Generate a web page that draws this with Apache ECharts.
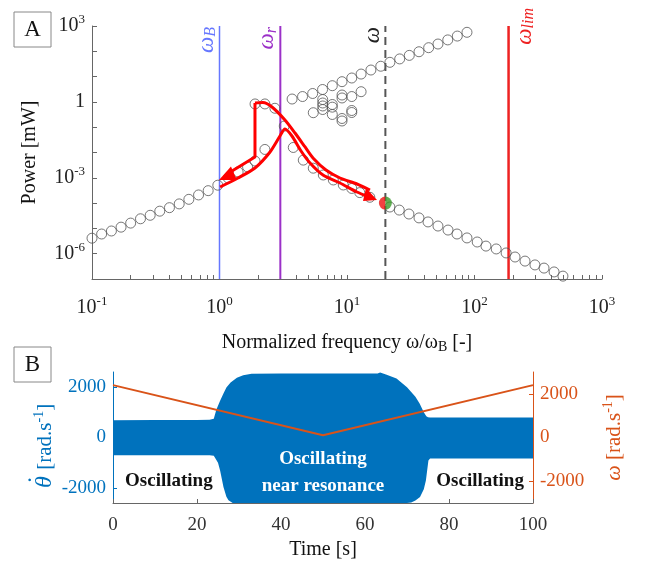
<!DOCTYPE html>
<html><head><meta charset="utf-8">
<script src="https://cdn.jsdelivr.net/npm/echarts@6/dist/echarts.min.js"></script>
<style>html,body{margin:0;padding:0;background:#fff}#c{width:647px;height:565px}</style>
</head><body><div id="c"></div>
<script>
// ---------- Panel A data (normalized frequency, power in mW) ----------
const downX = [0.1, 0.119, 0.142, 0.169, 0.201, 0.24, 0.286, 0.34, 0.405, 0.483, 0.575, 0.685, 0.815, 0.97, 1.17, 1.40, 1.66, 1.90, 2.27];
const downY = [4.1e-6, 6.0e-6, 7.9e-6, 1.12e-5, 1.62e-5, 2.4e-5, 3.3e-5, 4.8e-5, 6.6e-5, 9.3e-5, 1.41e-4, 2.1e-4, 3.1e-4, 5.1e-4, 9.8e-4, 1.7e-3, 2.7e-3, 4.6e-3, 1.32e-2];
const resX = [1.90, 2.27, 2.72, 3.22, 3.79, 4.54, 5.44, 6.52, 7.81, 9.35, 10.9, 12.6, 15.1];
const resY = [0.83, 0.83, 0.56, 0.111, 0.0158, 5.0e-3, 2.4e-3, 1.29e-3, 8.2e-4, 5.2e-4, 3.8e-4, 2.6e-4, 1.7e-4];
const tailX = [21.7, 25.7, 30.6, 36.7, 43.2, 51.7, 62.0, 72.9, 87.3, 105, 123, 148, 177, 208, 249, 298, 351, 421, 494];
const tailY = [7.0e-5, 5.3e-5, 3.7e-5, 2.6e-5, 1.8e-5, 1.24e-5, 8.6e-6, 6.0e-6, 4.2e-6, 2.9e-6, 2.0e-6, 1.54e-6, 1.07e-6, 7.4e-7, 5.1e-7, 3.6e-7, 2.7e-7, 1.9e-7, 1.3e-7];
const upX = [3.71, 4.48, 5.38, 6.43, 7.67, 9.14, 10.9, 12.9, 15.4, 18.4, 21.7, 25.9, 30.8, 36.7, 43.7, 51.7, 61.7, 73.3, 87.3];
const upY = [1.30, 1.63, 2.15, 3.09, 4.37, 6.3, 8.8, 12.6, 18.2, 25.7, 36.7, 50, 69, 96, 139, 194, 282, 400, 563];
const clusterX = [5.44, 6.45, 6.45, 6.45, 6.45, 7.67, 7.67, 7.67, 9.14, 9.14, 9.14, 9.14, 10.9, 10.9, 10.9, 12.9];
const clusterY = [0.374, 1.24, 0.905, 0.69, 0.50, 0.79, 0.62, 0.318, 1.87, 1.43, 0.221, 0.176, 1.63, 0.381, 0.457, 2.53];
const opX = [20], opY = [1.0e-4];
const freqLines = [1, 3.0, 20, 185];          // ωB, ωr, ω, ωlim
const arrowInnerX = [1.01, 1.397, 1.898, 2.49, 2.98, 3.26, 3.70, 4.36, 5.13, 6.48, 8.81, 11.97, 14.88];
const arrowInnerY = [4.33e-4, 9.8e-4, 2.44e-3, 1.05e-2, 0.0449, 0.0849, 0.0449, 0.01146, 3.85e-3, 1.29e-3, 6.23e-4, 2.75e-4, 1.74e-4];
const arrowOuterX = [1.253, 1.898, 1.898, 2.19, 2.58, 3.26, 3.91, 4.69, 5.41, 6.84, 8.81, 11.97, 15.14];
const arrowOuterY = [1.86e-3, 6.64e-3, 0.905, 0.947, 0.629, 0.193, 0.059, 0.0165, 6.07e-3, 2.03e-3, 9.82e-4, 5.69e-4, 3.30e-4];
const headRightX = [17.2, 14.1, 13.35], headRightY = [1.33e-4, 3.95e-4, 1.21e-4];
const headLeftX = [0.991, 1.23, 1.37], headLeftY = [8.18e-4, 2.80e-3, 8.18e-4];
const xTickLabels = [-1, 0, 1, 2, 3];          // decades
const yTickLabels = [-6, -3, 0, 3];

// ---------- Panel B data ----------
const upperT = [0, 10, 20, 23, 24, 24.6, 25.5, 26.3, 27, 28, 29.5, 31, 33, 40, 50, 60, 63, 63.6, 65, 67.5, 70, 72, 73, 74, 74.6, 75, 75.5, 80, 90, 100];
const upperV = [680, 690, 690, 700, 740, 1100, 1460, 1750, 1980, 2180, 2370, 2470, 2530, 2540, 2540, 2540, 2540, 2580, 2500, 2340, 1990, 1620, 1350, 1000, 840, 800, 790, 790, 790, 790];
const lowerT = [0, 10, 20, 23, 24, 25, 25.5, 26.3, 27, 27.5, 28.5, 40, 60, 70, 71, 72, 73.1, 74, 74.5, 75.1, 75.5, 80, 90, 100];
const lowerV = [-700, -700, -700, -700, -720, -1000, -1307, -1968, -2350, -2495, -2600, -2600, -2600, -2600, -2580, -2500, -2364, -2050, -1703, -911, -830, -830, -830, -830];
const omegaT = [0, 50, 100];
const omegaV = [2400, 100, 2400];
const timeTicks = [0, 20, 40, 60, 80, 100];
const thetaTicks = [-2000, 0, 2000];
const omegaTicks = [-2000, 0, 2000];
const regionText = ['Oscillating', 'Oscillating', 'Oscillating', 'near resonance'];
const regionT = [13.3, 87.4, 50, 50];
const regionV = [-1750, -1750, -870, -1940];
const regionColor = ['#111', '#111', '#fff', '#fff'];

const L = Math.log10;
const pts = (xs, ys) => xs.map((x, i) => [L(x), L(ys[i])]);
const FF = '"Liberation Serif", "DejaVu Serif", serif';
const BLUE = '#0072BD', ORANGE = '#D95319';

const minorTicks = [];
for (let d = -1; d < 3; d++) for (let k = 1; k < 10; k++) minorTicks.push(d + L(k));
minorTicks.push(3);

const supRich = {
  b: { fontSize: 20, fontFamily: FF, color: '#222' },
  s: { fontSize: 13, fontFamily: FF, color: '#222', padding: [0, 0, 12, 0] }
};

const circleStyle = { color: 'rgba(0,0,0,0)', borderColor: '#555', borderWidth: 1 };
function scatter(xs, ys) {
  return { type: 'scatter', xAxisIndex: 0, yAxisIndex: 0, data: pts(xs, ys), symbol: 'circle', symbolSize: 10, itemStyle: circleStyle, silent: true, z: 3 };
}
function vline(v, color, width, type) {
  return { type: 'line', xAxisIndex: 0, yAxisIndex: 0, data: [[L(v), -7], [L(v), 3]], symbol: 'none', lineStyle: { color: color, width: width, type: type || 'solid' }, z: 2, silent: true };
}
function poly(xs, ys) {
  return {
    type: 'custom', xAxisIndex: 0, yAxisIndex: 0, data: [[0, 0]], z: 6, silent: true,
    renderItem: (p, api) => ({ type: 'polygon', shape: { points: xs.map((x, i) => api.coord([L(x), L(ys[i])])) }, style: { fill: '#ff0000' } })
  };
}
const plain = v => String(v);

const chart = echarts.init(document.getElementById('c'), null, { renderer: 'canvas' });
const option = {
  animation: false,
  backgroundColor: '#fff',
  grid: [
    { left: 92, top: 26, width: 510, height: 253 },
    { left: 113, top: 372, width: 420, height: 131 }
  ],
  xAxis: [
    {
      gridIndex: 0, type: 'value', min: -1, max: 3,
      axisLine: { show: true, onZero: false, lineStyle: { color: '#666' } },
      axisTick: { show: true, inside: true, length: 4, customValues: minorTicks, lineStyle: { color: '#666' } },
      axisLabel: { customValues: xTickLabels, margin: 16, formatter: v => '{b|10}{s|' + v + '}', rich: supRich },
      splitLine: { show: false },
      name: '{t|Normalized frequency ω/ω}{u|B}{t| [-]}', nameLocation: 'middle', nameGap: 53,
      nameTextStyle: { rich: { t: { fontSize: 20, fontFamily: FF, color: '#111' }, u: { fontSize: 14, fontFamily: FF, color: '#111', padding: [8, 0, 0, 0] } } }
    },
    {
      gridIndex: 1, type: 'value', min: 0, max: 100, interval: 20,
      axisLine: { show: true, onZero: false, lineStyle: { color: '#666' } },
      axisTick: { show: true, inside: true, length: 4, customValues: timeTicks, lineStyle: { color: '#666' } },
      axisLabel: { customValues: timeTicks, fontSize: 19, fontFamily: FF, color: '#333', margin: 13, formatter: plain },
      splitLine: { show: false },
      name: 'Time [s]', nameLocation: 'middle', nameGap: 37,
      nameTextStyle: { fontSize: 20, fontFamily: FF, color: '#111' }
    }
  ],
  yAxis: [
    {
      gridIndex: 0, type: 'value', min: -7, max: 3, interval: 1,
      axisLine: { show: true, onZero: false, lineStyle: { color: '#666' } },
      axisTick: { show: true, inside: true, length: 5, lineStyle: { color: '#666' } },
      axisLabel: { customValues: yTickLabels, margin: 7, formatter: v => v === 0 ? '{b|1}' : '{b|10}{s|' + v + '}', rich: supRich },
      splitLine: { show: false },
      name: 'Power [mW]', nameLocation: 'middle', nameGap: 52, nameRotate: 90,
      nameTextStyle: { fontSize: 20, fontFamily: FF, color: '#111' }
    },
    {
      gridIndex: 1, type: 'value', min: -2600, max: 2600, position: 'left',
      axisLine: { show: true, onZero: false, lineStyle: { color: BLUE } },
      axisTick: { show: true, inside: true, length: 4, customValues: thetaTicks, lineStyle: { color: BLUE } },
      axisLabel: { customValues: thetaTicks, fontSize: 19, fontFamily: FF, color: BLUE, margin: 7, formatter: plain },
      splitLine: { show: false }
    },
    {
      gridIndex: 1, type: 'value', min: -3000, max: 3000, position: 'right',
      axisLine: { show: true, onZero: false, lineStyle: { color: ORANGE } },
      axisTick: { show: true, inside: true, length: 4, customValues: omegaTicks, lineStyle: { color: ORANGE } },
      axisLabel: { customValues: omegaTicks, fontSize: 19, fontFamily: FF, color: ORANGE, margin: 7, formatter: plain },
      splitLine: { show: false },
      name: '{w|ω}{t| [rad.s}{s|-1}{t|]}', nameLocation: 'middle', nameGap: 68, nameRotate: 90,
      nameTextStyle: { rich: {
        w: { fontSize: 22, fontFamily: FF, fontStyle: 'italic', color: ORANGE },
        t: { fontSize: 21, fontFamily: FF, color: ORANGE },
        s: { fontSize: 14, fontFamily: FF, color: ORANGE, padding: [0, 0, 12, 0] } } }
    }
  ],
  series: [
    vline(freqLines[0], '#6677ff', 1.5),
    vline(freqLines[1], '#9b30c8', 2),
    vline(freqLines[2], '#555', 2, [8, 5]),
    vline(freqLines[3], '#ee2222', 2.5),
    scatter(downX, downY),
    scatter(resX, resY),
    scatter(tailX, tailY),
    scatter(upX, upY),
    scatter(clusterX, clusterY),
    { type: 'line', xAxisIndex: 0, yAxisIndex: 0, data: pts(arrowInnerX, arrowInnerY), symbol: 'none', smooth: 0.25, lineStyle: { color: '#ff0000', width: 3 }, z: 5, silent: true },
    { type: 'line', xAxisIndex: 0, yAxisIndex: 0, data: pts(arrowOuterX.slice(0, 3), arrowOuterY.slice(0, 3)), symbol: 'none', lineStyle: { color: '#ff0000', width: 3 }, z: 5, silent: true },
    { type: 'line', xAxisIndex: 0, yAxisIndex: 0, data: pts(arrowOuterX.slice(2), arrowOuterY.slice(2)), symbol: 'none', smooth: 0.25, lineStyle: { color: '#ff0000', width: 3 }, z: 5, silent: true },
    poly(headRightX, headRightY),
    poly(headLeftX, headLeftY),
    { type: 'scatter', xAxisIndex: 0, yAxisIndex: 0, data: pts(opX, opY), symbol: 'path://M10,0 A10,10 0 0 0 10,20 Z', symbolSize: [6.5, 13], symbolOffset: [-3.25, 0], itemStyle: { color: '#ee1111' }, z: 7, silent: true },
    { type: 'scatter', xAxisIndex: 0, yAxisIndex: 0, data: pts(opX, opY), symbol: 'path://M0,0 A10,10 0 0 1 0,20 Z', symbolSize: [6.5, 13], symbolOffset: [3.25, 0], itemStyle: { color: '#3a9a2a' }, z: 7, silent: true },
    // Panel B
    {
      type: 'custom', xAxisIndex: 1, yAxisIndex: 1, data: [[0, 0]], z: 2, silent: true,
      renderItem: (p, api) => {
        const pp = upperT.map((t, i) => api.coord([t, upperV[i]]));
        for (let i = lowerT.length - 1; i >= 0; i--) pp.push(api.coord([lowerT[i], lowerV[i]]));
        return { type: 'polygon', shape: { points: pp }, style: { fill: BLUE } };
      }
    },
    { type: 'line', xAxisIndex: 1, yAxisIndex: 2, data: omegaT.map((t, i) => [t, omegaV[i]]), symbol: 'none', lineStyle: { color: ORANGE, width: 2 }, z: 4, silent: true },
    {
      type: 'custom', xAxisIndex: 1, yAxisIndex: 1, z: 5, silent: true,
      data: regionT.map((t, i) => [t, regionV[i], i]),
      renderItem: (p, api) => {
        const i = api.value(2);
        const c = api.coord([api.value(0), api.value(1)]);
        return { type: 'text', x: c[0], y: c[1], style: { text: regionText[i], fill: regionColor[i], font: 'bold 19px "Liberation Serif"', align: 'center', verticalAlign: 'middle' } };
      }
    }
  ],
  graphic: [
    { type: 'rect', shape: { x: 14, y: 12, width: 37, height: 35 }, style: { fill: '#fff', stroke: '#888', lineWidth: 1 } },
    { type: 'text', x: 32.5, y: 30, style: { text: 'A', fontSize: 23, fontFamily: FF, fill: '#111', align: 'center', verticalAlign: 'middle' } },
    { type: 'rect', shape: { x: 14, y: 347, width: 37, height: 35 }, style: { fill: '#fff', stroke: '#888', lineWidth: 1 } },
    { type: 'text', x: 32.5, y: 365, style: { text: 'B', fontSize: 23, fontFamily: FF, fill: '#111', align: 'center', verticalAlign: 'middle' } },
    // left axis title of panel B: θ̇ [rad.s^-1], rotated
    {
      type: 'group', x: 45, y: 437, rotation: Math.PI / 2,
      children: [
        { type: 'text', x: -51, y: 0, style: { text: 'θ', fontSize: 24, fontFamily: FF, fontStyle: 'italic', fill: BLUE, align: 'left', verticalAlign: 'middle' } },
        { type: 'text', x: -43, y: -7, style: { text: '\u02D9', fontSize: 26, fontFamily: FF, fill: BLUE, align: 'center', verticalAlign: 'middle' } },
        { type: 'text', x: -38, y: 0, style: { text: '{t| [rad.s}{s|-1}{t|]}', align: 'left', verticalAlign: 'middle',
          rich: { t: { fontSize: 21, fontFamily: FF, fill: BLUE, color: BLUE }, s: { fontSize: 14, fontFamily: FF, fill: BLUE, color: BLUE, padding: [0, 0, 12, 0] } } } }
      ]
    }
  ]
};
chart.setOption(option);

// rotated frequency labels next to the vertical lines
const lab = [
  { v: freqLines[0], txt: '{w|ω}{s|B}', color: '#6677ff', dx: -13, top: 27 },
  { v: freqLines[1], txt: '{w|ω}{s|r}', color: '#9b30c8', dx: -13, top: 27 },
  { v: freqLines[2], txt: '{w|ω}', color: '#222', dx: -12, top: 27 },
  { v: freqLines[3], txt: '{w|ω}{s|lim}', color: '#ee2222', dx: 16, top: 8 }
];
const extra = lab.map(o => {
  const px = chart.convertToPixel({ gridIndex: 0 }, [L(o.v), 3]);
  return {
    type: 'text', x: px[0] + o.dx, y: o.top, rotation: Math.PI / 2,
    style: {
      text: o.txt, align: 'right', verticalAlign: 'middle',
      rich: {
        w: { fontSize: 23, fontFamily: FF, fontStyle: 'italic', fill: o.color, color: o.color },
        s: { fontSize: 16, fontFamily: FF, fontStyle: 'italic', fill: o.color, color: o.color, padding: [9, 0, 0, 0] }
      }
    }
  };
});
chart.setOption({ graphic: option.graphic.concat(extra) });
</script>
</body></html>
